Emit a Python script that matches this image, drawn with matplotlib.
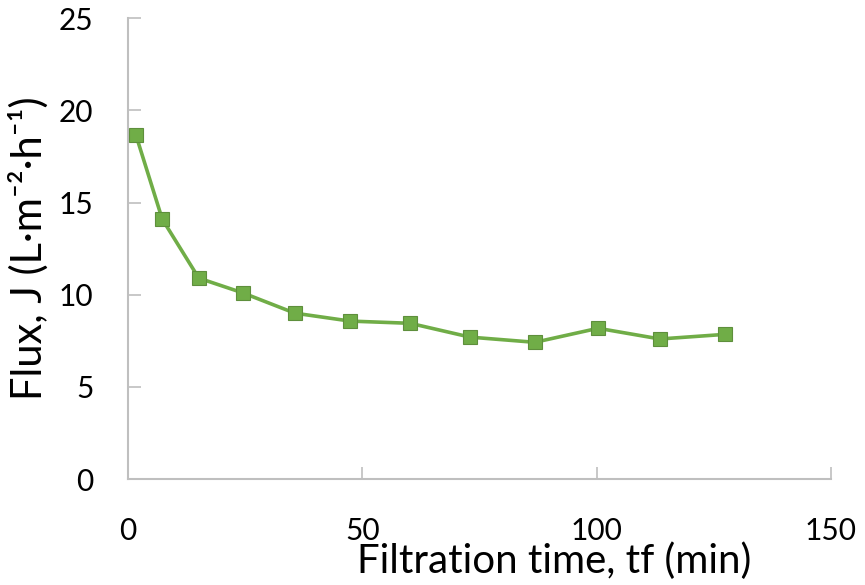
import matplotlib
matplotlib.use("Agg")
import matplotlib.pyplot as plt

# filtration time (min) and flux (L/m2/h)
time_min = [1.7, 7.3, 15.1, 24.5, 35.6, 47.4, 60.2, 73.0, 86.8, 100.3, 113.5, 127.4]
flux = [18.65, 14.1, 10.9, 10.1, 9.0, 8.57, 8.45, 7.7, 7.42, 8.18, 7.6, 7.85]

x_ticks = [0, 50, 100, 150]
y_ticks = [0, 5, 10, 15, 20, 25]

plt.rcParams['font.family'] = ['Lato', 'DejaVu Sans']
axis_grey = '#bfbfbf'
green = '#70ad47'

fig = plt.figure(figsize=(8.65, 5.85), dpi=100)
ax = fig.add_axes([0.148, 0.181, 0.8127, 0.788])

ax.plot(time_min, flux, color=green, lw=2.6, marker='s', ms=10.5,
        markerfacecolor=green, markeredgecolor='#5e8f3c', markeredgewidth=0.8,
        zorder=3)

ax.set_xlim(0, 150)
ax.set_ylim(0, 25)
ax.set_xticks(x_ticks)
ax.set_yticks(y_ticks)

for side in ['top', 'right']:
    ax.spines[side].set_visible(False)
for side in ['left', 'bottom']:
    ax.spines[side].set_color(axis_grey)
    ax.spines[side].set_linewidth(1.5)

ax.tick_params(axis='both', direction='in', color=axis_grey, width=1.2,
               length=9, labelsize=21.5, labelcolor='black')
ax.tick_params(axis='x', pad=27)
ax.tick_params(axis='y', pad=25)

ax.set_xlabel('Filtration time, tf (min)', fontsize=29)
ax.xaxis.set_label_coords(0.606, -0.138)
ax.set_ylabel('Flux, J (L·m⁻²·h⁻¹)', fontsize=30)
ax.yaxis.set_label_coords(-0.142, 0.5)
ax.yaxis.label.set_va('center')

fig.savefig('out.png', dpi=100)
